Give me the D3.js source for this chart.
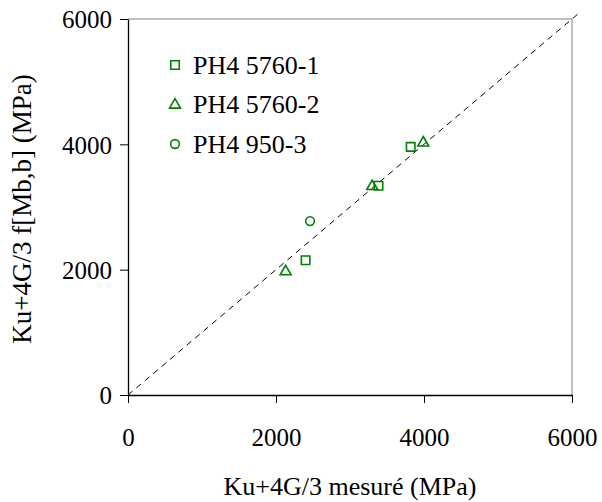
<!DOCTYPE html>
<html><head><meta charset="utf-8">
<script src="https://cdn.jsdelivr.net/npm/d3@7"></script>
<style>body{margin:0;background:#fff}svg{display:block}</style>
</head><body>
<script>
const seriesNames = ["PH4 5760-1", "PH4 5760-2", "PH4 950-3"];
const series1 = [[3820, 3960], [3385, 3340], [2400, 2150]];
const series2 = [[3990, 4040], [3300, 3345], [2130, 1985]];
const series3 = [[2460, 2775]];
const xTicks = [0, 2000, 4000, 6000];
const yTicks = [0, 2000, 4000, 6000];
const xTitle = "Ku+4G/3 mesuré (MPa)";
const yTitle = "Ku+4G/3 f[Mb,b] (MPa)";

const W = 602, H = 502;
const m = {l: 128, r: 30, t: 19, b: 107};
const green = "#008000";
const font = "'Liberation Serif','Times New Roman',serif";

const svg = d3.select("body").append("svg").attr("width", W).attr("height", H);
const x = d3.scaleLinear().domain([0, 6000]).range([m.l, W - m.r]);
const y = d3.scaleLinear().domain([0, 6000]).range([H - m.b, m.t]);

// frame (top and right)
svg.append("path").attr("d", `M${x(0)},${y(6000)}H${x(6000)}V${y(0)}`)
  .attr("fill", "none").attr("stroke", "#808080").attr("stroke-width", 1);

// dashed 1:1 line
svg.append("line").attr("x1", x(0)).attr("y1", y(0)).attr("x2", x(6100)).attr("y2", y(6100))
  .attr("stroke", "#000").attr("stroke-width", 1).attr("stroke-dasharray", "6,5");

// axes
const xAxis = svg.append("g").attr("transform", `translate(0,${y(0)})`)
  .call(d3.axisBottom(x).tickValues(xTicks).tickSize(8).tickPadding(25).tickSizeOuter(0).tickFormat(d3.format("d")));
const yAxis = svg.append("g").attr("transform", `translate(${x(0)},0)`)
  .call(d3.axisLeft(y).tickValues(yTicks).tickSize(8).tickPadding(8).tickSizeOuter(0).tickFormat(d3.format("d")));
[xAxis, yAxis].forEach(a => {
  a.attr("font-family", null).attr("font-size", null);
  a.selectAll("path").attr("stroke", "#000").attr("stroke-width", 1.3);
  a.selectAll("line").attr("stroke", "#000").attr("stroke-width", 1);
  a.selectAll("text").style("font-family", font).style("font-size", "25px").attr("fill", "#000");
});
yAxis.selectAll("text").attr("dy", "0.35em");

// titles
svg.append("text").attr("x", (x(0) + x(6000)) / 2).attr("y", 495)
  .attr("text-anchor", "middle").style("font-family", font).style("font-size", "26px").text(xTitle);
svg.append("text").attr("transform", `translate(31,${(y(0) + y(6000)) / 2 + 2}) rotate(-90)`)
  .attr("text-anchor", "middle").style("font-family", font).style("font-size", "27px").text(yTitle);

// markers
const sq = d3.symbol().type(d3.symbolSquare).size(72);
const tri = d3.symbol().type(d3.symbolTriangle).size(52);
const circ = d3.symbol().type(d3.symbolCircle).size(60);
const syms = [sq, tri, circ];
const all = [series1, series2, series3];
all.forEach((s, i) => {
  svg.append("g").selectAll("path").data(s).join("path")
    .attr("transform", d => `translate(${x(d[0])},${y(d[1]) + (i === 1 ? 1 : 0)})`)
    .attr("d", syms[i]()).attr("fill", "none").attr("stroke", green).attr("stroke-width", 1.6);
});

// legend
const legY = [65, 104, 144];
const leg = svg.append("g");
seriesNames.forEach((n, i) => {
  leg.append("path").attr("transform", `translate(175,${legY[i] + (i === 1 ? 1 : 0)})`)
    .attr("d", syms[i]()).attr("fill", "none").attr("stroke", green).attr("stroke-width", 1.6);
  leg.append("text").attr("x", 193).attr("y", legY[i]).attr("dy", "0.35em")
    .style("font-family", font).style("font-size", "26px").text(n);
});
</script>
</body></html>
